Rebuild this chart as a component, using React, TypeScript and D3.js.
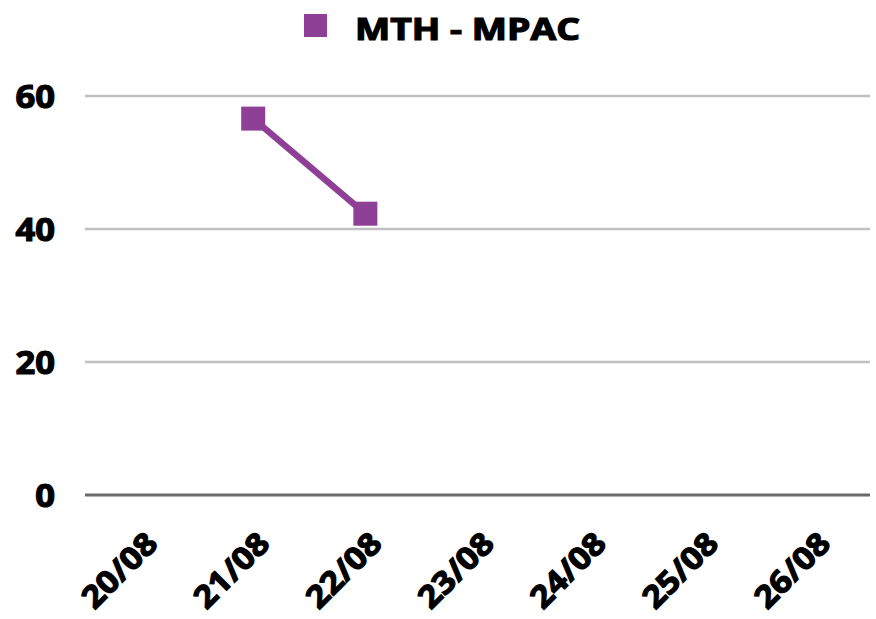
import React from "react";
import * as d3 from "d3";

const categories = ["20/08", "21/08", "22/08", "23/08", "24/08", "25/08", "26/08"];
const values: (number | null)[] = [null, 56.6, 42.3, null, null, null, null];
const yTicks = [0, 20, 40, 60];
const seriesName = "MTH - MPAC";

const W = 876, H = 619;
const margin = { left: 85, right: 6, top: 96, bottom: 124 };
const color = "#8E3F96";
const font = "'Open Sans', sans-serif";

export default function App() {
  const x = d3.scaleBand<string>().domain(categories).range([margin.left, W - margin.right]);
  const y = d3.scaleLinear().domain([0, 60]).range([H - margin.bottom, margin.top]);
  const pts = categories
    .map((c, i) => ({ c, v: values[i] }))
    .filter((d) => d.v !== null) as { c: string; v: number }[];
  const line = d3
    .line<{ c: string; v: number }>()
    .x((d) => x(d.c)! + x.bandwidth() / 2)
    .y((d) => y(d.v));
  const ms = 24;
  const txt = { fontWeight: 700, stroke: "#000", strokeWidth: 1.2, fill: "#000" } as const;
  return (
    <svg width={W} height={H} style={{ position: "absolute", left: 0, top: 0 }} fontFamily={font}>
      <rect width={W} height={H} fill="#fff" />
      {yTicks.map((t) => (
        <g key={t}>
          <line
            x1={margin.left}
            x2={W - margin.right}
            y1={y(t)}
            y2={y(t)}
            stroke={t === 0 ? "#6b6b6b" : "#c0c0c0"}
            strokeWidth={t === 0 ? 3 : 2.5}
          />
          <g transform={`translate(55 ${y(t)}) scale(1.08 1)`}>
            <text x={0} y={0} dy="0.36em" textAnchor="end" fontSize={32} {...txt}>
              {t}
            </text>
          </g>
        </g>
      ))}
      {categories.map((c) => {
        const cx = x(c)! + x.bandwidth() / 2 - 22;
        const cy = 570;
        return (
          <g key={c} transform={`translate(${cx} ${cy}) rotate(-45) scale(1.1 1)`}>
            <text x={0} y={0} dy="0.36em" textAnchor="middle" fontSize={31} {...txt}>
              {c}
            </text>
          </g>
        );
      })}
      <path d={line(pts) ?? ""} fill="none" stroke={color} strokeWidth={6.5} />
      {pts.map((d) => (
        <rect
          key={d.c}
          x={x(d.c)! + x.bandwidth() / 2 - ms / 2}
          y={y(d.v) - ms / 2}
          width={ms}
          height={ms}
          fill={color}
        />
      ))}
      <rect x={304} y={14} width={23} height={23} fill={color} />
      <text
        x={355}
        y={40}
        fontSize={30}
        textLength={225}
        lengthAdjust="spacingAndGlyphs"
        {...txt}
      >
        {seriesName}
      </text>
    </svg>
  );
}
